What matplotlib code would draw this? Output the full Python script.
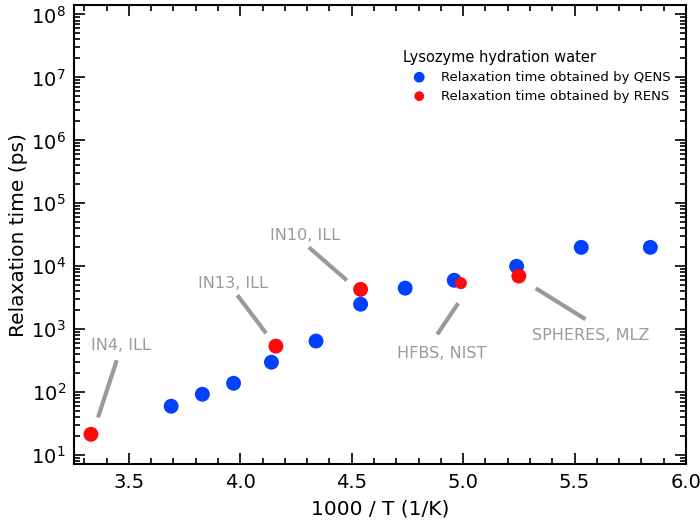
import matplotlib
matplotlib.use("Agg")
import matplotlib.pyplot as plt
from matplotlib.ticker import MultipleLocator, LogLocator, NullFormatter

# QENS (blue) and RENS (red) relaxation times, lysozyme hydration water
qens_x = [3.69, 3.83, 3.97, 4.14, 4.34, 4.54, 4.74, 4.96, 5.24, 5.53, 5.84]
qens_tau = [60, 93, 139, 300, 650, 2500, 4500, 6000, 10000, 20000, 20000]
rens_x = [3.33, 4.16, 4.54, 4.99, 5.25]
rens_tau = [21.5, 540, 4300, 5400, 7000]
rens_size = [115, 115, 115, 75, 115]

# instrument labels: text position, line start, line end (data coords)
instruments = ["IN4, ILL", "IN13, ILL", "IN10, ILL", "HFBS, NIST", "SPHERES, MLZ"]
label_xy = [(3.464, 557), (3.969, 5370), (4.29, 31000), (4.902, 416), (5.571, 804)]
line_from = [(3.446, 322), (3.987, 3470), (4.308, 20000), (4.978, 2590), (5.326, 4470)]
line_to = [(3.362, 40), (4.116, 865), (4.478, 6000), (4.884, 832), (5.549, 1443)]

y_major = [1e1, 1e2, 1e3, 1e4, 1e5, 1e6, 1e7, 1e8]

blue = "#0040ff"
red = "#ff0a0a"
grey = "#9a9a9a"

fig = plt.figure(figsize=(7, 5.21), dpi=100)
ax = fig.add_axes([0.106, 0.109, 0.874, 0.881])

for (x0, y0), (x1, y1) in zip(line_from, line_to):
    ax.plot([x0, x1], [y0, y1], color=grey, lw=3, solid_capstyle="butt", zorder=1)
for name, (tx, ty) in zip(instruments, label_xy):
    ax.text(tx, ty, name, color=grey, fontsize=11.5, ha="center", va="center")

ax.scatter(qens_x, qens_tau, s=115, color=blue, edgecolors="none", zorder=3,
           label="Relaxation time obtained by QENS")
ax.scatter(rens_x, rens_tau, s=rens_size, color=red, edgecolors="none", zorder=4,
           label="Relaxation time obtained by RENS")

ax.set_yscale("log")
ax.set_xlim(3.255, 6.0)
ax.set_ylim(7.2, 1.4e8)
ax.xaxis.set_major_locator(MultipleLocator(0.5))
ax.xaxis.set_minor_locator(MultipleLocator(0.1))
ax.set_yticks(y_major)
ax.yaxis.set_minor_locator(LogLocator(base=10, subs=range(2, 10), numticks=12))
ax.yaxis.set_minor_formatter(NullFormatter())
ax.tick_params(which="both", direction="in", top=True, right=True, labelsize=14, width=1.2)
ax.tick_params(which="major", length=8, pad=6)
ax.tick_params(which="minor", length=4)
for s in ax.spines.values():
    s.set_linewidth(1.5)

ax.set_xlabel("1000 / T (1/K)", fontsize=14.5, labelpad=6)
ax.set_ylabel("Relaxation time (ps)", fontsize=14.5, labelpad=2)

leg = ax.legend(loc="upper left", bbox_to_anchor=(0.537, 0.903), frameon=False,
                title="Lysozyme hydration water", fontsize=9.5, title_fontsize=10.5,
                handlelength=2.5, handletextpad=0.4, borderpad=0, borderaxespad=0,
                labelspacing=0.45, markerscale=0.72)
leg._legend_box.align = "left"

fig.savefig("out.png", dpi=100)
